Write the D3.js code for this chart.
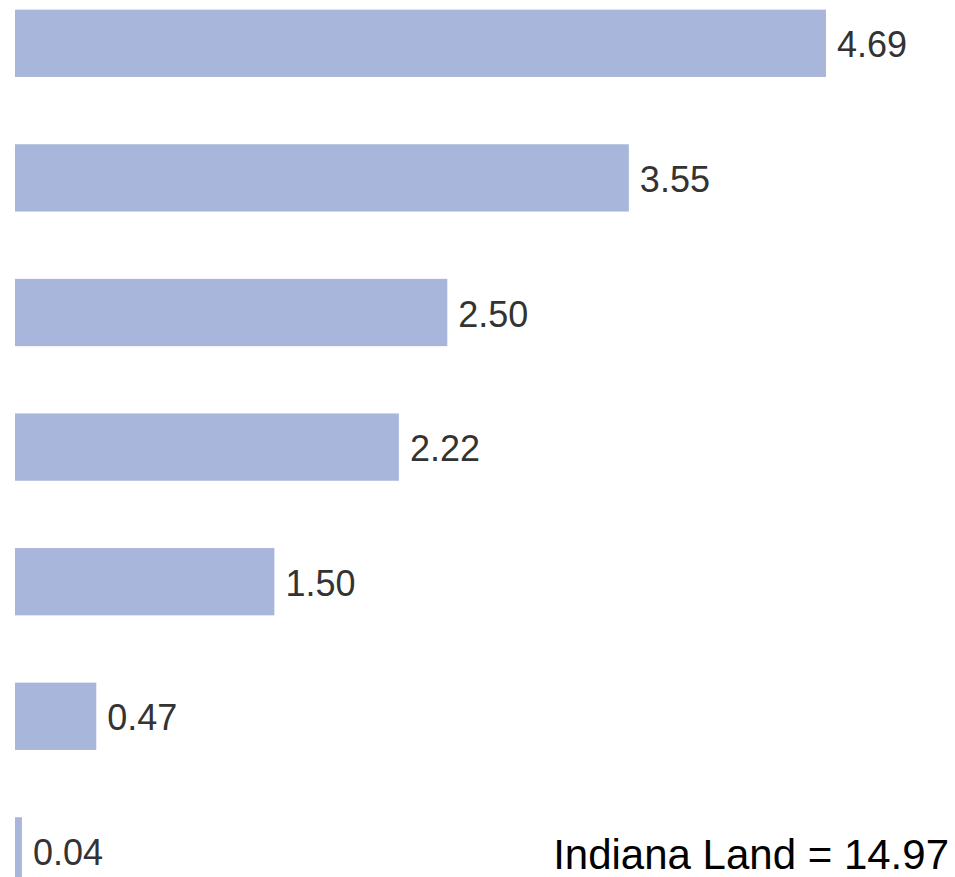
<!DOCTYPE html>
<html><head><meta charset="utf-8">
<script src="https://cdn.jsdelivr.net/npm/d3@7"></script>
<style>html,body{margin:0;padding:0;background:#fff;overflow:hidden}</style>
</head><body>
<script>
const categories = ["c1","c2","c3","c4","c5","c6","c7"];
const values = [4.69, 3.55, 2.50, 2.22, 1.50, 0.47, 0.04];
const labels = ["4.69","3.55","2.50","2.22","1.50","0.47","0.04"];
const note = "Indiana Land = 14.97";

const W = 955, H = 877;
const svg = d3.select("body").append("svg").attr("width", W).attr("height", H);
const x = d3.scaleLinear().domain([0, 5]).range([15, 879.6]);
const y = d3.scaleBand().domain(categories).range([-24, 918.2]).paddingInner(0.5).paddingOuter(0.25);

svg.selectAll("rect.bar").data(values).join("rect").attr("class","bar")
  .attr("x", x(0)).attr("y", (d,i)=>y(categories[i]))
  .attr("width", d=>x(d)-x(0)).attr("height", y.bandwidth())
  .attr("fill", "#a8b6db");

svg.selectAll("text.lab").data(values).join("text").attr("class","lab")
  .attr("x", d=>x(d)+11).attr("y", (d,i)=>y(categories[i]) + y.bandwidth()/2 + 14)
  .attr("font-family","Liberation Sans, Arial, sans-serif").attr("font-size", 36)
  .attr("fill","#333").text((d,i)=>labels[i]);

svg.append("text").attr("x", 949).attr("y", 869).attr("text-anchor","end")
  .attr("font-family","Liberation Sans, Arial, sans-serif").attr("font-size", 42)
  .attr("fill","#000").text(note);
</script>
</body></html>
